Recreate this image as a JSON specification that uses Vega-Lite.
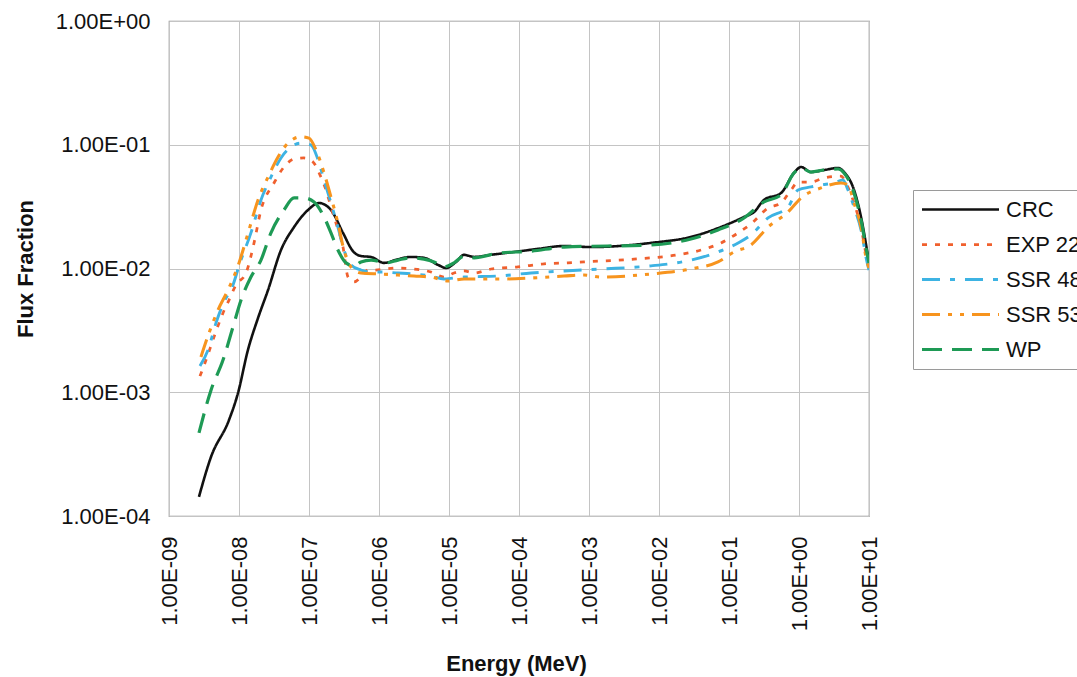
{
  "$schema": "https://vega.github.io/schema/vega-lite/v6.json",
  "autosize": {"type": "none"},
  "padding": {"left": 169, "top": 21, "right": 208, "bottom": 161},
  "width": 700,
  "height": 495,
  "background": "white",
  "config": {
    "font": "Liberation Sans",
    "view": {"stroke": "#8a8a8a", "strokeWidth": 1.2},
    "axis": {
      "gridColor": "#c4c4c4",
      "gridWidth": 1,
      "domain": false,
      "ticks": false,
      "labelFont": "Liberation Sans",
      "labelFontSize": 22,
      "labelColor": "#111111",
      "labelFlush": false,
      "labelOverlap": false,
      "labelBound": false,
      "titleFont": "Liberation Sans",
      "titleFontSize": 22,
      "titleFontWeight": "bold",
      "titleColor": "#111111"
    }
  },
  "data": {
    "values": [
      {"series": "CRC", "energy": 2.68e-9, "flux": 1.43e-4},
      {"series": "CRC", "energy": 3.98e-9, "flux": 3.00e-4},
      {"series": "CRC", "energy": 7.20e-9, "flux": 5.97e-4},
      {"series": "CRC", "energy": 9.68e-9, "flux": 9.86e-4},
      {"series": "CRC", "energy": 1.34e-8, "flux": 2.19e-3},
      {"series": "CRC", "energy": 1.87e-8, "flux": 3.98e-3},
      {"series": "CRC", "energy": 2.60e-8, "flux": 6.70e-3},
      {"series": "CRC", "energy": 3.98e-8, "flux": 1.41e-2},
      {"series": "CRC", "energy": 6.11e-8, "flux": 2.16e-2},
      {"series": "CRC", "energy": 9.68e-8, "flux": 2.97e-2},
      {"series": "CRC", "energy": 1.39e-7, "flux": 3.38e-2},
      {"series": "CRC", "energy": 2.06e-7, "flux": 2.97e-2},
      {"series": "CRC", "energy": 3.06e-7, "flux": 1.94e-2},
      {"series": "CRC", "energy": 4.25e-7, "flux": 1.38e-2},
      {"series": "CRC", "energy": 5.53e-7, "flux": 1.26e-2},
      {"series": "CRC", "energy": 7.69e-7, "flux": 1.24e-2},
      {"series": "CRC", "energy": 1.18e-6, "flux": 1.11e-2},
      {"series": "CRC", "energy": 1.87e-6, "flux": 1.19e-2},
      {"series": "CRC", "energy": 2.86e-6, "flux": 1.24e-2},
      {"series": "CRC", "energy": 4.39e-6, "flux": 1.22e-2},
      {"series": "CRC", "energy": 6.96e-6, "flux": 1.07e-2},
      {"series": "CRC", "energy": 9.06e-6, "flux": 1.01e-2},
      {"series": "CRC", "energy": 1.26e-5, "flux": 1.13e-2},
      {"series": "CRC", "energy": 1.64e-5, "flux": 1.29e-2},
      {"series": "CRC", "energy": 2.28e-5, "flux": 1.24e-2},
      {"series": "CRC", "energy": 3.98e-5, "flux": 1.29e-2},
      {"series": "CRC", "energy": 8.48e-5, "flux": 1.36e-2},
      {"series": "CRC", "energy": 1.87e-4, "flux": 1.44e-2},
      {"series": "CRC", "energy": 4.39e-4, "flux": 1.52e-2},
      {"series": "CRC", "energy": 1.07e-3, "flux": 1.49e-2},
      {"series": "CRC", "energy": 7.69e-3, "flux": 1.61e-2},
      {"series": "CRC", "energy": 2.86e-2, "flux": 1.80e-2},
      {"series": "CRC", "energy": 6.96e-2, "flux": 2.12e-2},
      {"series": "CRC", "energy": 0.164, "flux": 2.61e-2},
      {"series": "CRC", "energy": 0.228, "flux": 2.86e-2},
      {"series": "CRC", "energy": 0.316, "flux": 3.58e-2},
      {"series": "CRC", "energy": 0.553, "flux": 4.07e-2},
      {"series": "CRC", "energy": 0.849, "flux": 5.92e-2},
      {"series": "CRC", "energy": 1.07, "flux": 6.61e-2},
      {"series": "CRC", "energy": 1.48, "flux": 6.02e-2},
      {"series": "CRC", "energy": 2.28, "flux": 6.25e-2},
      {"series": "CRC", "energy": 3.61, "flux": 6.49e-2},
      {"series": "CRC", "energy": 4.39, "flux": 6.02e-2},
      {"series": "CRC", "energy": 6.11, "flux": 4.31e-2},
      {"series": "CRC", "energy": 7.69, "flux": 2.61e-2},
      {"series": "CRC", "energy": 9.36, "flux": 1.41e-2},
      {"series": "CRC", "energy": 10, "flux": 1.13e-2},

      {"series": "EXP 22", "energy": 2.77e-9, "flux": 1.35e-3},
      {"series": "EXP 22", "energy": 3.38e-9, "flux": 1.82e-3},
      {"series": "EXP 22", "energy": 4.39e-9, "flux": 2.79e-3},
      {"series": "EXP 22", "energy": 5.91e-9, "flux": 4.37e-3},
      {"series": "EXP 22", "energy": 7.20e-9, "flux": 5.56e-3},
      {"series": "EXP 22", "energy": 9.06e-9, "flux": 7.36e-3},
      {"series": "EXP 22", "energy": 1.26e-8, "flux": 9.20e-3},
      {"series": "EXP 22", "energy": 1.64e-8, "flux": 1.61e-2},
      {"series": "EXP 22", "energy": 2.06e-8, "flux": 2.97e-2},
      {"series": "EXP 22", "energy": 3.16e-8, "flux": 4.91e-2},
      {"series": "EXP 22", "energy": 4.39e-8, "flux": 6.61e-2},
      {"series": "EXP 22", "energy": 6.11e-8, "flux": 7.67e-2},
      {"series": "EXP 22", "energy": 8.48e-8, "flux": 7.82e-2},
      {"series": "EXP 22", "energy": 1.14e-7, "flux": 7.26e-2},
      {"series": "EXP 22", "energy": 1.48e-7, "flux": 5.48e-2},
      {"series": "EXP 22", "energy": 1.75e-7, "flux": 4.31e-2},
      {"series": "EXP 22", "energy": 2.06e-7, "flux": 3.14e-2},
      {"series": "EXP 22", "energy": 2.43e-7, "flux": 2.33e-2},
      {"series": "EXP 22", "energy": 3.06e-7, "flux": 1.49e-2},
      {"series": "EXP 22", "energy": 3.61e-7, "flux": 8.53e-3},
      {"series": "EXP 22", "energy": 4.39e-7, "flux": 7.78e-3},
      {"series": "EXP 22", "energy": 5.53e-7, "flux": 8.53e-3},
      {"series": "EXP 22", "energy": 6.96e-7, "flux": 9.72e-3},
      {"series": "EXP 22", "energy": 8.48e-7, "flux": 9.72e-3},
      {"series": "EXP 22", "energy": 1.87e-6, "flux": 1.01e-2},
      {"series": "EXP 22", "energy": 3.16e-6, "flux": 9.91e-3},
      {"series": "EXP 22", "energy": 5.53e-6, "flux": 9.37e-3},
      {"series": "EXP 22", "energy": 8.48e-6, "flux": 8.53e-3},
      {"series": "EXP 22", "energy": 1.18e-5, "flux": 9.20e-3},
      {"series": "EXP 22", "energy": 1.64e-5, "flux": 9.55e-3},
      {"series": "EXP 22", "energy": 2.28e-5, "flux": 9.20e-3},
      {"series": "EXP 22", "energy": 3.98e-5, "flux": 9.91e-3},
      {"series": "EXP 22", "energy": 9.68e-5, "flux": 1.03e-2},
      {"series": "EXP 22", "energy": 2.28e-4, "flux": 1.09e-2},
      {"series": "EXP 22", "energy": 5.01e-4, "flux": 1.11e-2},
      {"series": "EXP 22", "energy": 8.48e-4, "flux": 1.13e-2},
      {"series": "EXP 22", "energy": 4.39e-3, "flux": 1.19e-2},
      {"series": "EXP 22", "energy": 1.87e-2, "flux": 1.29e-2},
      {"series": "EXP 22", "energy": 3.98e-2, "flux": 1.41e-2},
      {"series": "EXP 22", "energy": 7.69e-2, "flux": 1.61e-2},
      {"series": "EXP 22", "energy": 0.135, "flux": 1.94e-2},
      {"series": "EXP 22", "energy": 0.206, "flux": 2.29e-2},
      {"series": "EXP 22", "energy": 0.361, "flux": 3.08e-2},
      {"series": "EXP 22", "energy": 0.553, "flux": 3.38e-2},
      {"series": "EXP 22", "energy": 0.769, "flux": 4.31e-2},
      {"series": "EXP 22", "energy": 0.968, "flux": 5.00e-2},
      {"series": "EXP 22", "energy": 1.48, "flux": 5.00e-2},
      {"series": "EXP 22", "energy": 2.28, "flux": 5.39e-2},
      {"series": "EXP 22", "energy": 3.98, "flux": 5.59e-2},
      {"series": "EXP 22", "energy": 4.69, "flux": 4.91e-2},
      {"series": "EXP 22", "energy": 6.11, "flux": 3.38e-2},
      {"series": "EXP 22", "energy": 7.69, "flux": 2.16e-2},
      {"series": "EXP 22", "energy": 9.36, "flux": 1.22e-2},
      {"series": "EXP 22", "energy": 10, "flux": 1.11e-2},

      {"series": "SSR 48", "energy": 2.77e-9, "flux": 1.63e-3},
      {"series": "SSR 48", "energy": 3.61e-9, "flux": 2.19e-3},
      {"series": "SSR 48", "energy": 4.69e-9, "flux": 3.63e-3},
      {"series": "SSR 48", "energy": 6.11e-9, "flux": 5.36e-3},
      {"series": "SSR 48", "energy": 8.21e-9, "flux": 7.36e-3},
      {"series": "SSR 48", "energy": 1.0e-8, "flux": 1.05e-2},
      {"series": "SSR 48", "energy": 1.48e-8, "flux": 1.94e-2},
      {"series": "SSR 48", "energy": 2.06e-8, "flux": 3.58e-2},
      {"series": "SSR 48", "energy": 2.86e-8, "flux": 5.48e-2},
      {"series": "SSR 48", "energy": 3.98e-8, "flux": 7.82e-2},
      {"series": "SSR 48", "energy": 5.53e-8, "flux": 9.59e-2},
      {"series": "SSR 48", "energy": 7.69e-8, "flux": 0.103},
      {"series": "SSR 48", "energy": 1.07e-7, "flux": 9.95e-2},
      {"series": "SSR 48", "energy": 1.35e-7, "flux": 7.53e-2},
      {"series": "SSR 48", "energy": 1.64e-7, "flux": 5.19e-2},
      {"series": "SSR 48", "energy": 2.06e-7, "flux": 3.38e-2},
      {"series": "SSR 48", "energy": 2.59e-7, "flux": 2.16e-2},
      {"series": "SSR 48", "energy": 3.16e-7, "flux": 1.41e-2},
      {"series": "SSR 48", "energy": 3.98e-7, "flux": 1.07e-2},
      {"series": "SSR 48", "energy": 5.53e-7, "flux": 9.72e-3},
      {"series": "SSR 48", "energy": 7.69e-7, "flux": 9.37e-3},
      {"series": "SSR 48", "energy": 1.07e-6, "flux": 9.37e-3},
      {"series": "SSR 48", "energy": 1.87e-6, "flux": 9.20e-3},
      {"series": "SSR 48", "energy": 3.16e-6, "flux": 9.03e-3},
      {"series": "SSR 48", "energy": 5.53e-6, "flux": 8.69e-3},
      {"series": "SSR 48", "energy": 8.48e-6, "flux": 8.22e-3},
      {"series": "SSR 48", "energy": 1.18e-5, "flux": 8.38e-3},
      {"series": "SSR 48", "energy": 1.64e-5, "flux": 8.53e-3},
      {"series": "SSR 48", "energy": 5.01e-5, "flux": 8.69e-3},
      {"series": "SSR 48", "energy": 1.48e-4, "flux": 9.20e-3},
      {"series": "SSR 48", "energy": 4.39e-4, "flux": 9.55e-3},
      {"series": "SSR 48", "energy": 1.48e-3, "flux": 9.91e-3},
      {"series": "SSR 48", "energy": 7.69e-3, "flux": 1.05e-2},
      {"series": "SSR 48", "energy": 2.86e-2, "flux": 1.17e-2},
      {"series": "SSR 48", "energy": 6.96e-2, "flux": 1.36e-2},
      {"series": "SSR 48", "energy": 0.135, "flux": 1.61e-2},
      {"series": "SSR 48", "energy": 0.206, "flux": 1.87e-2},
      {"series": "SSR 48", "energy": 0.361, "flux": 2.56e-2},
      {"series": "SSR 48", "energy": 0.697, "flux": 3.14e-2},
      {"series": "SSR 48", "energy": 0.968, "flux": 4.31e-2},
      {"series": "SSR 48", "energy": 1.48, "flux": 4.56e-2},
      {"series": "SSR 48", "energy": 2.06, "flux": 4.73e-2},
      {"series": "SSR 48", "energy": 3.16, "flux": 4.91e-2},
      {"series": "SSR 48", "energy": 4.25, "flux": 5.19e-2},
      {"series": "SSR 48", "energy": 5.01, "flux": 4.31e-2},
      {"series": "SSR 48", "energy": 6.11, "flux": 3.14e-2},
      {"series": "SSR 48", "energy": 7.69, "flux": 2.05e-2},
      {"series": "SSR 48", "energy": 9.36, "flux": 1.13e-2},
      {"series": "SSR 48", "energy": 10, "flux": 9.72e-3},

      {"series": "SSR 53", "energy": 2.86e-9, "flux": 1.93e-3},
      {"series": "SSR 53", "energy": 3.73e-9, "flux": 3.01e-3},
      {"series": "SSR 53", "energy": 5.01e-9, "flux": 4.62e-3},
      {"series": "SSR 53", "energy": 6.96e-9, "flux": 6.70e-3},
      {"series": "SSR 53", "energy": 9.68e-9, "flux": 1.05e-2},
      {"series": "SSR 53", "energy": 1.35e-8, "flux": 1.94e-2},
      {"series": "SSR 53", "energy": 1.87e-8, "flux": 3.58e-2},
      {"series": "SSR 53", "energy": 2.60e-8, "flux": 5.48e-2},
      {"series": "SSR 53", "energy": 3.61e-8, "flux": 7.96e-2},
      {"series": "SSR 53", "energy": 5.18e-8, "flux": 0.105},
      {"series": "SSR 53", "energy": 7.69e-8, "flux": 0.116},
      {"series": "SSR 53", "energy": 1.0e-7, "flux": 0.113},
      {"series": "SSR 53", "energy": 1.26e-7, "flux": 9.07e-2},
      {"series": "SSR 53", "energy": 1.64e-7, "flux": 5.92e-2},
      {"series": "SSR 53", "energy": 2.06e-7, "flux": 3.78e-2},
      {"series": "SSR 53", "energy": 2.59e-7, "flux": 2.33e-2},
      {"series": "SSR 53", "energy": 3.16e-7, "flux": 1.41e-2},
      {"series": "SSR 53", "energy": 3.98e-7, "flux": 1.03e-2},
      {"series": "SSR 53", "energy": 5.53e-7, "flux": 9.20e-3},
      {"series": "SSR 53", "energy": 1.07e-6, "flux": 9.03e-3},
      {"series": "SSR 53", "energy": 1.87e-6, "flux": 8.86e-3},
      {"series": "SSR 53", "energy": 3.16e-6, "flux": 8.69e-3},
      {"series": "SSR 53", "energy": 5.53e-6, "flux": 8.53e-3},
      {"series": "SSR 53", "energy": 9.68e-6, "flux": 7.92e-3},
      {"series": "SSR 53", "energy": 1.64e-5, "flux": 8.22e-3},
      {"series": "SSR 53", "energy": 5.01e-5, "flux": 8.22e-3},
      {"series": "SSR 53", "energy": 1.48e-4, "flux": 8.38e-3},
      {"series": "SSR 53", "energy": 4.39e-4, "flux": 8.69e-3},
      {"series": "SSR 53", "energy": 8.48e-4, "flux": 8.86e-3},
      {"series": "SSR 53", "energy": 1.48e-3, "flux": 8.53e-3},
      {"series": "SSR 53", "energy": 7.69e-3, "flux": 9.03e-3},
      {"series": "SSR 53", "energy": 2.86e-2, "flux": 9.91e-3},
      {"series": "SSR 53", "energy": 6.96e-2, "flux": 1.13e-2},
      {"series": "SSR 53", "energy": 0.118, "flux": 1.36e-2},
      {"series": "SSR 53", "energy": 0.206, "flux": 1.55e-2},
      {"series": "SSR 53", "energy": 0.361, "flux": 2.16e-2},
      {"series": "SSR 53", "energy": 0.697, "flux": 2.86e-2},
      {"series": "SSR 53", "energy": 1.07, "flux": 3.72e-2},
      {"series": "SSR 53", "energy": 2.06, "flux": 4.48e-2},
      {"series": "SSR 53", "energy": 3.98, "flux": 4.91e-2},
      {"series": "SSR 53", "energy": 5.01, "flux": 4.73e-2},
      {"series": "SSR 53", "energy": 6.11, "flux": 3.38e-2},
      {"series": "SSR 53", "energy": 7.69, "flux": 2.16e-2},
      {"series": "SSR 53", "energy": 9.36, "flux": 1.13e-2},
      {"series": "SSR 53", "energy": 10, "flux": 1.01e-2},

      {"series": "WP", "energy": 2.68e-9, "flux": 4.69e-4},
      {"series": "WP", "energy": 3.98e-9, "flux": 1.04e-3},
      {"series": "WP", "energy": 5.91e-9, "flux": 1.82e-3},
      {"series": "WP", "energy": 8.21e-9, "flux": 3.37e-3},
      {"series": "WP", "energy": 1.07e-8, "flux": 5.56e-3},
      {"series": "WP", "energy": 1.48e-8, "flux": 8.53e-3},
      {"series": "WP", "energy": 2.06e-8, "flux": 1.17e-2},
      {"series": "WP", "energy": 2.86e-8, "flux": 1.94e-2},
      {"series": "WP", "energy": 4.39e-8, "flux": 2.97e-2},
      {"series": "WP", "energy": 6.11e-8, "flux": 3.72e-2},
      {"series": "WP", "energy": 8.48e-8, "flux": 3.72e-2},
      {"series": "WP", "energy": 1.18e-7, "flux": 3.45e-2},
      {"series": "WP", "energy": 1.64e-7, "flux": 2.61e-2},
      {"series": "WP", "energy": 2.06e-7, "flux": 1.94e-2},
      {"series": "WP", "energy": 2.59e-7, "flux": 1.41e-2},
      {"series": "WP", "energy": 3.38e-7, "flux": 1.11e-2},
      {"series": "WP", "energy": 4.39e-7, "flux": 1.05e-2},
      {"series": "WP", "energy": 5.53e-7, "flux": 1.13e-2},
      {"series": "WP", "energy": 7.69e-7, "flux": 1.17e-2},
      {"series": "WP", "energy": 1.26e-6, "flux": 1.11e-2},
      {"series": "WP", "energy": 1.87e-6, "flux": 1.17e-2},
      {"series": "WP", "energy": 2.86e-6, "flux": 1.22e-2},
      {"series": "WP", "energy": 4.39e-6, "flux": 1.19e-2},
      {"series": "WP", "energy": 6.11e-6, "flux": 1.13e-2},
      {"series": "WP", "energy": 8.48e-6, "flux": 1.03e-2},
      {"series": "WP", "energy": 1.18e-5, "flux": 1.11e-2},
      {"series": "WP", "energy": 1.64e-5, "flux": 1.26e-2},
      {"series": "WP", "energy": 2.28e-5, "flux": 1.22e-2},
      {"series": "WP", "energy": 5.01e-5, "flux": 1.33e-2},
      {"series": "WP", "energy": 1.48e-4, "flux": 1.38e-2},
      {"series": "WP", "energy": 4.39e-4, "flux": 1.49e-2},
      {"series": "WP", "energy": 7.69e-3, "flux": 1.55e-2},
      {"series": "WP", "energy": 2.86e-2, "flux": 1.73e-2},
      {"series": "WP", "energy": 6.96e-2, "flux": 2.05e-2},
      {"series": "WP", "energy": 0.164, "flux": 2.56e-2},
      {"series": "WP", "energy": 0.316, "flux": 3.45e-2},
      {"series": "WP", "energy": 0.553, "flux": 3.93e-2},
      {"series": "WP", "energy": 0.849, "flux": 5.92e-2},
      {"series": "WP", "energy": 1.07, "flux": 6.49e-2},
      {"series": "WP", "energy": 1.48, "flux": 6.02e-2},
      {"series": "WP", "energy": 2.28, "flux": 6.25e-2},
      {"series": "WP", "energy": 3.61, "flux": 6.37e-2},
      {"series": "WP", "energy": 4.39, "flux": 5.92e-2},
      {"series": "WP", "energy": 6.11, "flux": 4.07e-2},
      {"series": "WP", "energy": 7.69, "flux": 2.47e-2},
      {"series": "WP", "energy": 9.36, "flux": 1.33e-2},
      {"series": "WP", "energy": 10, "flux": 1.11e-2}
    ]
  },
  "mark": {"type": "line", "interpolate": "monotone", "clip": true},
  "encoding": {
    "x": {
      "field": "energy",
      "type": "quantitative",
      "scale": {"type": "log", "domain": [1e-9, 10], "nice": false},
      "axis": {
        "title": "Energy (MeV)",
        "values": [1e-9, 1e-8, 1e-7, 1e-6, 1e-5, 1e-4, 1e-3, 1e-2, 1e-1, 1, 10],
        "labelExpr": "'1.00E' + (round(log(datum.value) / LN10) < 0 ? '-' : '+') + (abs(round(log(datum.value) / LN10)) < 10 ? '0' : '') + abs(round(log(datum.value) / LN10))",
        "labelAngle": -90,
        "labelAlign": "right",
        "labelBaseline": "middle",
        "labelPadding": 20,
        "titleX": 347,
        "titleY": 147,
        "titleAlign": "center",
        "titleBaseline": "middle"
      }
    },
    "y": {
      "field": "flux",
      "type": "quantitative",
      "scale": {"type": "log", "domain": [1e-4, 1], "nice": false},
      "axis": {
        "title": "Flux Fraction",
        "values": [1e-4, 1e-3, 1e-2, 1e-1, 1],
        "labelExpr": "'1.00E' + (round(log(datum.value) / LN10) < 0 ? '-' : '+') + (abs(round(log(datum.value) / LN10)) < 10 ? '0' : '') + abs(round(log(datum.value) / LN10))",
        "labelPadding": 19,
        "titleAngle": 270,
        "titleX": -144,
        "titleY": 247.5,
        "titleAlign": "center",
        "titleBaseline": "middle"
      }
    },
    "color": {
      "field": "series",
      "type": "nominal",
      "scale": {
        "domain": ["CRC", "EXP 22", "SSR 48", "SSR 53", "WP"],
        "range": ["#111111", "#F0602E", "#3DB3E3", "#F7941E", "#1E9A55"]
      },
      "legend": {
        "title": null,
        "orient": "none",
        "legendX": 744,
        "legendY": 169,
        "fillColor": "white",
        "strokeColor": "#9a9a9a",
        "padding": 2,
        "symbolType": "stroke",
        "symbolSize": 5929,
        "symbolStrokeWidth": 3,
        "symbolOffset": 5,
        "clipHeight": 35,
        "rowPadding": 0,
        "labelOffset": 5,
        "labelFont": "Liberation Sans",
        "labelFontSize": 22,
        "labelColor": "#111111"
      }
    },
    "strokeDash": {
      "field": "series",
      "type": "nominal",
      "scale": {
        "domain": ["CRC", "EXP 22", "SSR 48", "SSR 53", "WP"],
        "range": [[1, 0], [5, 8], [18, 10, 5, 10], [18, 8, 4, 8, 4, 8], [20, 10]]
      },
      "legend": null
    },
    "strokeWidth": {
      "field": "series",
      "type": "nominal",
      "scale": {
        "domain": ["CRC", "EXP 22", "SSR 48", "SSR 53", "WP"],
        "range": [2.6, 3.2, 3.2, 3.2, 3.2]
      },
      "legend": null
    }
  }
}
